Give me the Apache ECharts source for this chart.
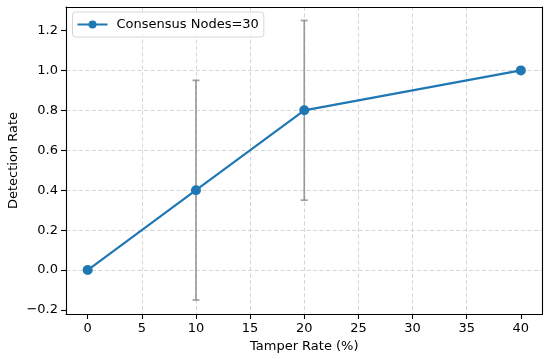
<!DOCTYPE html>
<html>
<head>
<meta charset="utf-8">
<script src="https://cdn.jsdelivr.net/npm/echarts@6/dist/echarts.min.js"></script>
<style>html,body{margin:0;padding:0;background:#fff}#c{width:550px;height:359px}</style>
</head>
<body>
<div id="c"></div>
<script>
const tamperRates = [0, 10, 20, 40];
const detectionRates = [0.0, 0.4, 0.8, 1.0];
const errLow = [0.0, -0.15, 0.35, 1.0];
const errHigh = [0.0, 0.95, 1.25, 1.0];
const xTicks = [0, 5, 10, 15, 20, 25, 30, 35, 40];
const yTicks = [-0.2, 0.0, 0.2, 0.4, 0.6, 0.8, 1.0, 1.2];
const seriesName = 'Consensus Nodes=30';

const FONT = 'DejaVu Sans';
const chart = echarts.init(document.getElementById('c'), null, {renderer: 'canvas'});

const errData = tamperRates.map((x, i) => [x, errLow[i], errHigh[i]]).filter(d => d[1] !== d[2]);

const gridLine = {show: true, lineStyle: {color: '#d0d0d0', width: 0.9, type: [4, 2.5]}, showMinLine: false, showMaxLine: false};

chart.setOption({
  animation: false,
  textStyle: {fontFamily: FONT},
  grid: {left: 66, right: 7.5, top: 7, bottom: 45, containLabel: false, outerBoundsMode: 'none'},
  legend: {
    show: true,
    left: 72.5, top: 12,
    padding: [6, 5, 6, 4],
    itemWidth: 30, itemHeight: 10,
    backgroundColor: 'rgba(255,255,255,0.8)',
    borderColor: '#d6d6d6', borderWidth: 1, borderRadius: 3,
    textStyle: {fontFamily: FONT, fontSize: 13, color: '#000', padding: [0, 0, 0, 4]},
    data: [seriesName]
  },
  xAxis: [{
    type: 'value', min: -2, max: 42, position: 'bottom',
    name: 'Tamper Rate (%)', nameLocation: 'middle', nameGap: 24,
    nameTextStyle: {fontFamily: FONT, fontSize: 13, color: '#000'},
    axisLine: {show: true, onZero: false, lineStyle: {color: '#000', width: 1.1}},
    axisTick: {show: true, length: 5, inside: false, customValues: xTicks, lineStyle: {color: '#000', width: 1.1}},
    axisLabel: {show: true, margin: 8, fontFamily: FONT, fontSize: 13, color: '#000', customValues: xTicks, formatter: v => String(v)},
    splitLine: gridLine
  }, {
    type: 'value', min: -2, max: 42, position: 'top',
    axisLine: {show: true, onZero: false, lineStyle: {color: '#000', width: 1.1}},
    axisTick: {show: false}, axisLabel: {show: false}, splitLine: {show: false}
  }],
  yAxis: [{
    type: 'value', min: -0.22, max: 1.3175, position: 'left',
    name: 'Detection Rate', nameLocation: 'middle', nameGap: 52, nameMoveOverlap: false,
    nameTextStyle: {fontFamily: FONT, fontSize: 13, color: '#000', align: 'center', verticalAlign: 'middle'},
    axisLine: {show: true, onZero: false, lineStyle: {color: '#000', width: 1.1}},
    axisTick: {show: true, length: 5, inside: false, customValues: yTicks, lineStyle: {color: '#000', width: 1.1}},
    axisLabel: {show: true, margin: 8, fontFamily: FONT, fontSize: 13, color: '#000', customValues: yTicks,
      formatter: v => v.toFixed(1).replace('-', '\u2212')},
    splitLine: gridLine
  }, {
    type: 'value', min: -0.22, max: 1.3175, position: 'right',
    axisLine: {show: true, onZero: false, lineStyle: {color: '#000', width: 1.1}},
    axisTick: {show: false}, axisLabel: {show: false}, splitLine: {show: false}
  }],
  series: [{
    type: 'custom',
    name: 'err',
    xAxisIndex: 0, yAxisIndex: 0,
    z: 3,
    silent: true,
    data: errData,
    renderItem: function (params, api) {
      const x = api.value(0);
      const lo = api.coord([x, api.value(1)]);
      const hi = api.coord([x, api.value(2)]);
      const cap = 3.5;
      const style = {stroke: 'rgba(128,128,128,0.75)', lineWidth: 1.7, fill: null};
      return {
        type: 'group',
        children: [
          {type: 'line', shape: {x1: lo[0], y1: lo[1], x2: hi[0], y2: hi[1]}, style: style},
          {type: 'line', shape: {x1: lo[0] - cap, y1: lo[1], x2: lo[0] + cap, y2: lo[1]}, style: style},
          {type: 'line', shape: {x1: hi[0] - cap, y1: hi[1], x2: hi[0] + cap, y2: hi[1]}, style: style}
        ]
      };
    }
  }, {
    type: 'line',
    name: seriesName,
    xAxisIndex: 0, yAxisIndex: 0,
    z: 4,
    data: tamperRates.map((x, i) => [x, detectionRates[i]]),
    symbol: 'circle', symbolSize: 10,
    lineStyle: {color: '#1f77b4', width: 2.2},
    itemStyle: {color: '#1f77b4'}
  }]
});
</script>
</body>
</html>
